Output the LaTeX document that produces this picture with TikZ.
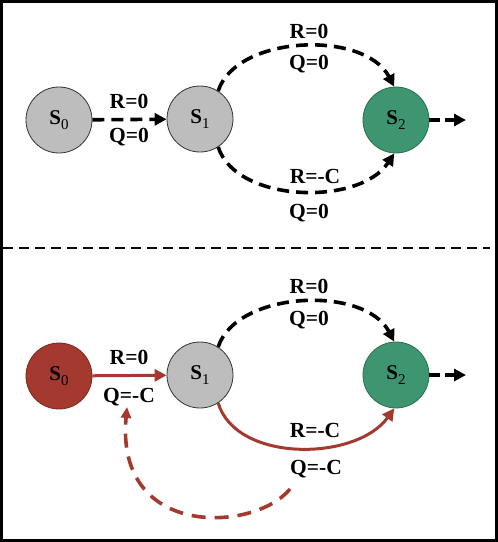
\documentclass[tikz,border=0pt]{standalone}
\usepackage{fontspec}
\setmainfont{Liberation Serif}
\usetikzlibrary{arrows.meta}
\definecolor{stgray}{HTML}{BDBDBD}
\definecolor{stgreen}{HTML}{3D9670}
\definecolor{stgreenb}{HTML}{2C6E50}
\definecolor{stred}{HTML}{A3392F}
\definecolor{stredb}{HTML}{7A2820}
\newcommand\subx[1]{\raisebox{-0.45ex}{\mdseries\fontsize{15}{15}\selectfont #1}}
\tikzset{
  state/.style={circle, minimum size=66pt, inner sep=0pt, line width=0.8pt, font=\fontsize{21}{21}\selectfont\bfseries},
  grayst/.style={state, draw=black!80, fill=stgray},
  greenst/.style={state, draw=stgreenb, fill=stgreen},
  redst/.style={state, draw=stredb, fill=stred},
  lbl/.style={font=\fontsize{21.5}{21.5}\selectfont\bfseries, inner sep=0pt},
  dsh/.style={line width=3.6pt, dash pattern=on 12pt off 7pt, -{Triangle[length=12pt,width=12pt]}},
  redsolid/.style={line width=3pt, draw=stred, -{Triangle[length=12pt,width=12pt]}},
  reddsh/.style={line width=3.6pt, draw=stred, dash pattern=on 14pt off 9pt, -{Triangle[length=11pt,width=10pt]}},
}
\begin{document}
\begin{tikzpicture}[x=1pt,y=-1pt]
\useasboundingbox (0,0) rectangle (498,542);
\draw[line width=3.2pt] (1.6,1.6) rectangle (496.4,540.4);
\coordinate (sepl) at (3,248);
\coordinate (sepr) at (490,248);
\draw[line width=2.6pt, dash pattern=on 10pt off 6pt] (sepl) -- (sepr);

% ---------- top panel ----------
\node[grayst] (a0) at (59,120) {S\subx{0}};
\node[grayst] (a1) at (200,119) {S\subx{1}};
\node[greenst] (a2) at (396,120) {S\subx{2}};
\coordinate (aout) at (466,120);

\draw[dsh] (a0) -- (a1);
\draw[dsh] (a1.57) .. controls +(18,-56) and +(-30,-57) .. (a2.93);
\draw[dsh] (a1.-57) .. controls +(18,56) and +(-35,53) .. (a2.-93);
\draw[dsh, dash pattern=on 11pt off 5pt] (a2) -- (aout);

\node[lbl] (ta) at (129,101) {R=0};
\node[lbl] (tb) at (129,137) {Q=0};
\node[lbl] (tc) at (309,31) {R=0};
\node[lbl] (td) at (309,64) {Q=0};
\node[lbl] (te) at (315,176) {R=-C};
\node[lbl] (tf) at (309,213) {Q=0};

% ---------- bottom panel ----------
\node[redst] (b0) at (59,376) {S\subx{0}};
\node[grayst] (b1) at (200,375) {S\subx{1}};
\node[greenst] (b2) at (396,375) {S\subx{2}};
\coordinate (bout) at (466,375);
\coordinate (rstart) at (290,489);
\coordinate (rend) at (127,407);

\draw[redsolid] (b0) -- (b1);
\draw[dsh] (b1.57) .. controls +(18,-56) and +(-30,-57) .. (b2.93);
\draw[redsolid] (b1.-57) .. controls +(18,60) and +(-38,53) .. (b2.-93);
\draw[dsh, dash pattern=on 11pt off 5pt] (b2) -- (bout);

\node[lbl] (ba) at (129,357) {R=0};
\node[lbl] (bb) at (129,397) {Q=-C};
\node[lbl] (bc) at (309,286) {R=0};
\node[lbl] (bd) at (309,320) {Q=0};
\node[lbl] (be) at (315,430) {R=-C};
\node[lbl] (bf) at (316,469) {Q=-C};

\draw[reddsh] (rstart) .. controls (255,532) and (115,540) .. (rend);
\end{tikzpicture}
\end{document}
